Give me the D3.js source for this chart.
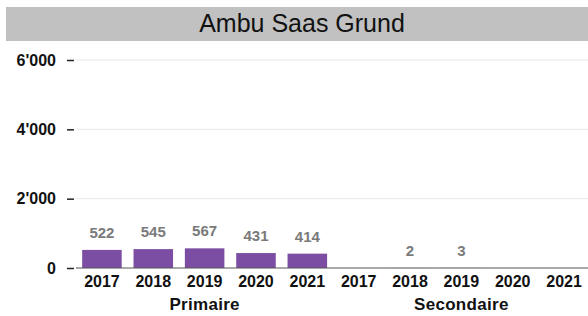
<!DOCTYPE html>
<html>
<head>
<meta charset="utf-8">
<script src="https://cdn.jsdelivr.net/npm/d3@7"></script>
<style>
body { margin: 0; background: #fff; }
text { font-family: "Liberation Sans", Arial, sans-serif; }
</style>
</head>
<body>
<div id="container"></div>
<script>
var title = "Ambu Saas Grund";
var groups = ["Primaire", "Secondaire"];
var years = ["2017", "2018", "2019", "2020", "2021"];
var primaire = [522, 545, 567, 431, 414];
var secondaire = [0, 2, 3, 0, 0];
var yTicks = [0, 2000, 4000, 6000];

var W = 588, H = 316,
    margin = {top: 60, right: 0, bottom: 48, left: 76};

// flat list of slots, one per group/year
var dataset = [];
years.forEach((y, i) => dataset.push({group: groups[0], year: y, value: primaire[i], key: groups[0] + y}));
years.forEach((y, i) => dataset.push({group: groups[1], year: y, value: secondaire[i], key: groups[1] + y}));

var svg = d3.select("#container").append("svg")
    .attr("width", W)
    .attr("height", H);

/* title bar */
svg.append("rect")
    .attr("x", 6).attr("y", 7)
    .attr("width", W - 6).attr("height", 34)
    .attr("fill", "#c1c1c1");
svg.append("text")
    .attr("x", 302).attr("y", 32)
    .attr("text-anchor", "middle")
    .style("font-size", "25px")
    .attr("fill", "#111")
    .text(title);

var xScale = d3.scaleBand()
    .domain(dataset.map(d => d.key))
    .range([margin.left, margin.left + 514])
    .paddingInner(0.23)
    .paddingOuter(0.12);

var yScale = d3.scaleLinear()
    .domain([0, 6000])
    .range([268, 60]);

/* gridlines */
svg.append("g").selectAll("line").data(yTicks.filter(t => t > 0))
    .enter().append("line")
    .attr("x1", margin.left).attr("x2", W)
    .attr("y1", d => yScale(d)).attr("y2", d => yScale(d))
    .attr("stroke", "#e8e8e8");

/* y axis */
var yAxis = d3.axisLeft(yScale)
    .tickValues(yTicks)
    .tickSize(7)
    .tickPadding(11)
    .tickFormat(d => d3.format(",")(d).replace(/,/g, "'"));
var gy = svg.append("g")
    .attr("transform", "translate(" + (margin.left - 2) + ",0)")
    .call(yAxis);
gy.select(".domain").remove();
gy.selectAll(".tick line").attr("stroke", "#222").attr("stroke-width", 1.5);
gy.selectAll(".tick text")
    .style("font-size", "16px").style("font-weight", "bold").attr("fill", "#111");

/* bars */
svg.append("g").selectAll("rect").data(dataset)
    .enter().append("rect")
    .attr("x", d => xScale(d.key))
    .attr("y", d => yScale(d.value))
    .attr("width", xScale.bandwidth())
    .attr("height", d => yScale(0) - yScale(d.value))
    .attr("fill", "#7b4ea3");

/* baseline */
svg.append("line")
    .attr("x1", margin.left).attr("x2", W)
    .attr("y1", yScale(0)).attr("y2", yScale(0))
    .attr("stroke", "#555");

/* value labels */
svg.append("g").selectAll("text").data(dataset.filter(d => d.value > 0))
    .enter().append("text")
    .attr("x", d => xScale(d.key) + xScale.bandwidth() / 2)
    .attr("y", d => yScale(d.value) - 12)
    .attr("text-anchor", "middle")
    .style("font-size", "15px").style("font-weight", "bold")
    .attr("fill", "#7a7a7a")
    .text(d => d.value);

/* year labels */
svg.append("g").selectAll("text").data(dataset)
    .enter().append("text")
    .attr("x", d => xScale(d.key) + xScale.bandwidth() / 2)
    .attr("y", 287)
    .attr("text-anchor", "middle")
    .style("font-size", "16px").style("font-weight", "bold")
    .attr("fill", "#111")
    .text(d => d.year);

/* group labels */
svg.append("g").selectAll("text").data(groups)
    .enter().append("text")
    .attr("x", g => {
        var keys = dataset.filter(d => d.group == g).map(d => d.key);
        return (xScale(keys[0]) + xScale(keys[keys.length - 1]) + xScale.bandwidth()) / 2;
    })
    .attr("y", 310)
    .attr("text-anchor", "middle")
    .style("font-size", "17px").style("font-weight", "bold")
    .style("letter-spacing", "0.3px")
    .attr("fill", "#111")
    .text(g => g);
</script>
</body>
</html>
